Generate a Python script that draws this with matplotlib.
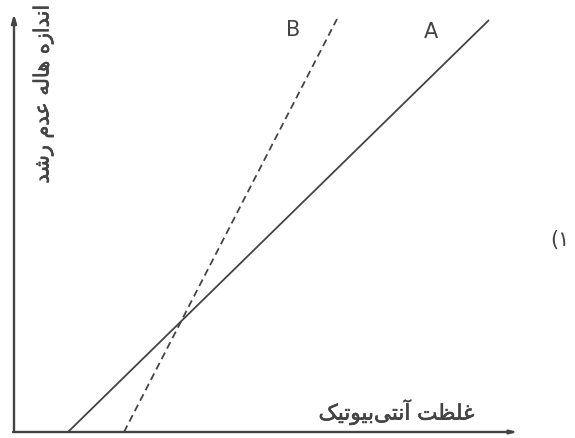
import matplotlib.pyplot as plt
import matplotlib.patheffects as pe

# antibiotic concentration vs. inhibition zone size (arbitrary units)
conc_a = [5.4, 47.5]
zone_a = [0.0, 41.2]
conc_b = [11.0, 32.3]
zone_b = [0.0, 41.3]

# Persian labels written in visual order with presentation forms
y_label = ("\uFEAA\uFEB7\uFEAD" + " " + "\uFEE1\uFEAA\uFECB" + " "
           + "\uFEEA\uFEDF\uFE8E\uFEEB" + " "
           + "\uFEE9\uFEAF\uFE8D\uFEAA\uFEE7\uFE8D")
x_label = ("\uFB8F\uFEF4\uFE97\uFEEE\uFEF4\uFE91" + "\uFEF0\uFE98\uFEE7\uFE81"
           + " " + "\uFE96\uFEC8\uFEE0\uFECF")
panel_label = "(\u06F1"

ink = "#444444"
thicker = [pe.withStroke(linewidth=0.45, foreground=ink)]

fig = plt.figure(figsize=(5.75, 4.38), dpi=100)
ax = fig.add_axes([0, 0, 1, 1])
ax.set_xlim(-1.4, 56.1)
ax.set_ylim(-0.6, 43.2)
ax.axis("off")

# axes with arrows
ax.annotate("", xy=(0, 41.8), xytext=(0, 0),
            arrowprops=dict(arrowstyle="-|>,head_length=0.5,head_width=0.15",
                            color=ink, lw=1.7, shrinkA=0, shrinkB=0))
ax.annotate("", xy=(50.4, 0), xytext=(-0.1, 0),
            arrowprops=dict(arrowstyle="-|>,head_length=0.4,head_width=0.1",
                            color=ink, lw=1.7, shrinkA=0, shrinkB=0))

ax.plot(conc_a, zone_a, color=ink, lw=1.3, solid_capstyle="butt")
ax.plot(conc_b, zone_b, color=ink, lw=1.3, dashes=(4, 2.5))

ax.text(41.7, 40.0, "A", fontsize=15, color=ink, ha="center", va="center")
ax.text(27.9, 40.2, "B", fontsize=15, color=ink, ha="center", va="center")

ax.text(38.2, 2.0, x_label, fontsize=15.5, color=ink, ha="center", va="center",
        family="DejaVu Sans", path_effects=thicker)
ax.text(2.9, 33.8, y_label, fontsize=15, color=ink, ha="center", va="center",
        rotation=90, family="DejaVu Sans", path_effects=thicker)
ax.text(54.6, 19.2, panel_label, fontsize=15, color=ink, ha="center", va="center",
        family="DejaVu Sans")

fig.savefig("out.png", dpi=100)
